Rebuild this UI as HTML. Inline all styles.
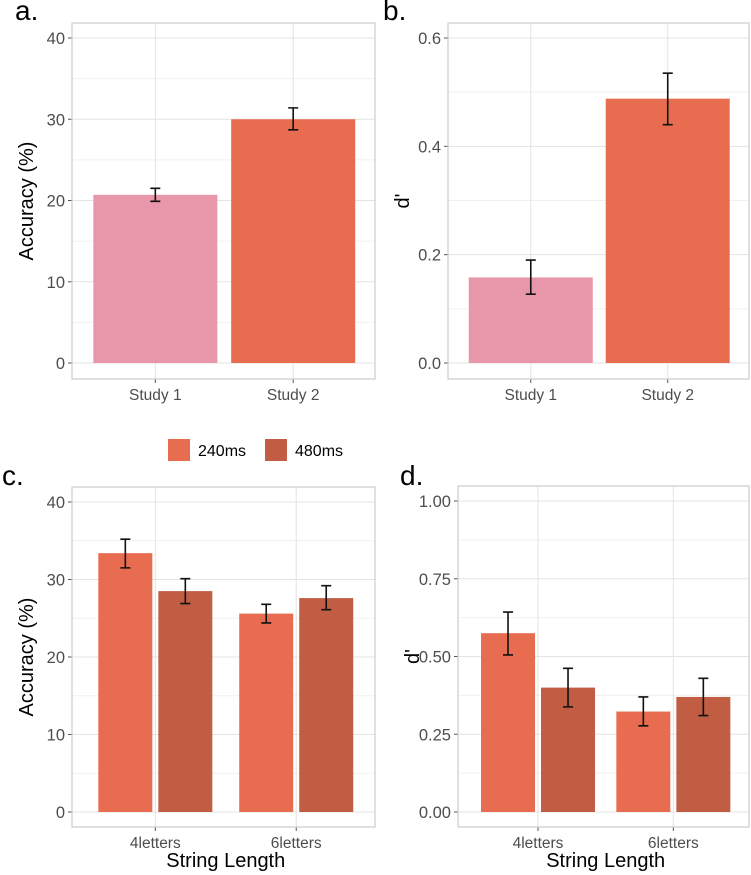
<!DOCTYPE html>
<html><head><meta charset="utf-8"><style>
body{margin:0;background:#fff}
svg{display:block;font-family:"Liberation Sans",sans-serif}
</style></head><body>
<svg id="s" width="751" height="875"></svg>
<script>
const catsAB=["Study 1","Study 2"];
const accAB=[20.7,30.0];
const accLoAB=[19.9,28.7];
const accHiAB=[21.5,31.4];
const dAB=[0.158,0.488];
const dLoAB=[0.127,0.44];
const dHiAB=[0.19,0.535];
const catsCD=["4letters","6letters"];
const groups=["240ms","480ms"];
const accCD=[[33.4,25.6],[28.5,27.6]];
const accLoCD=[[31.5,24.4],[26.9,26.1]];
const accHiCD=[[35.2,26.8],[30.1,29.2]];
const dCD=[[0.575,0.323],[0.40,0.37]];
const dLoCD=[[0.505,0.277],[0.338,0.31]];
const dHiCD=[[0.643,0.37],[0.462,0.43]];
const ticksA=[0,10,20,30,40], ticksB=[0,0.2,0.4,0.6], ticksC=[0,10,20,30,40], ticksD=[0,0.25,0.5,0.75,1.0];
const tickLblB=["0.0","0.2","0.4","0.6"], tickLblD=["0.00","0.25","0.50","0.75","1.00"];

const S=document.getElementById('s'),NS="http://www.w3.org/2000/svg";
function mk(t,a,p,txt){const e=document.createElementNS(NS,t);for(const k in a)e.setAttribute(k,a[k]);if(txt!=null)e.textContent=txt;(p||S).appendChild(e);return e;}

function panel(o){
  const g=mk('g',{});
  
  
  const ys=v=>o.y0+(o.y1-o.y0)*(v-o.tmin)/(o.tmax-o.tmin);
  for(let i=0;i<o.ticks.length-1;i++){const m=(o.ticks[i]+o.ticks[i+1])/2;mk('line',{x1:o.L,x2:o.R,y1:ys(m),y2:ys(m),stroke:'#f0f0f0','stroke-width':1},g);}
  o.ticks.forEach((t,i)=>{
    const y=ys(t);
    const gl=mk('line',{x1:o.L,x2:o.R,y1:y,y2:y,stroke:'#e3e3e3','stroke-width':1},g);
    
    mk('line',{x1:o.L-4,x2:o.L,y1:y,y2:y,stroke:'#555'},g);
    const tl=mk('text',{x:o.L-7,y:y+6,'text-anchor':'end','font-size':16.5,fill:'#4d4d4d'},g,o.lbl?o.lbl[i]:String(t));
    
  });
  o.cx.forEach((x,i)=>{
    mk('line',{x1:x,x2:x,y1:o.T,y2:o.B,stroke:'#e3e3e3'},g);
    mk('line',{x1:x,x2:x,y1:o.B,y2:o.B+4,stroke:'#555'},g);
    const xl=mk('text',{x:x,y:o.B+21,'text-anchor':'middle','font-size':15.5,fill:'#4d4d4d'},g,o.cats[i]);
    
  });
  o.bars.forEach(b=>{
    const r=mk('rect',{x:b.x,y:ys(b.v),width:b.w,height:ys(0)-ys(b.v),fill:b.c},g);
    
    const cx=b.x+b.w/2,yl=ys(b.lo),yh=ys(b.hi);
    const e=mk('path',{d:`M${cx},${yl}V${yh}M${cx-5},${yl}H${cx+5}M${cx-5},${yh}H${cx+5}`,stroke:'#111','stroke-width':1.6,fill:'none'},g);
    
  });
  const fr=mk('rect',{x:o.L,y:o.T,width:o.R-o.L,height:o.B-o.T,fill:'none',stroke:'#ccc','stroke-width':1.2},g);
  
  const yt=mk('text',{x:0,y:0,transform:`translate(${o.L-39},${(o.T+o.B)/2}) rotate(-90)`,'text-anchor':'middle','font-size':20,fill:'#000'},g,o.ytitle);
  
  const pl=mk('text',{x:o.tx,y:o.ty,'font-size':28,fill:'#000'},g,o.tag);
  
  if(o.xtitle){const xt=mk('text',{x:(o.cx[0]+o.cx[1])/2,y:o.B+40,'text-anchor':'middle','font-size':20,fill:'#000'},g,o.xtitle);
    }
}
const pink='#E896AA',or='#E86D50',dk='#C05D43';
function single(L,R,vals,lo,hi){const w=(R-L);const cx=[L+w*0.275,L+w*0.73];return {cx,bars:vals.map((v,i)=>({x:cx[i]-62,w:124,v,lo:lo[i],hi:hi[i],c:i?or:pink}))};}
function dodge(L,R,vals,lo,hi){const w=R-L;const cx=[L+w*0.275,L+w*0.74];const bars=[];
  cx.forEach((c,i)=>groups.forEach((gn,j)=>bars.push({x:j?c+3:c-57,w:54,v:vals[j][i],lo:lo[j][i],hi:hi[j][i],c:j?dk:or})));return {cx,bars};}
let a=single(72,375,accAB,accLoAB,accHiAB);
panel({name:'panel-a',tag:'a.',tx:15,ty:20,L:72,R:375,T:23,B:379,y0:363,y1:38,tmin:0,tmax:40,ticks:ticksA,cats:catsAB,cx:a.cx,bars:a.bars,ytitle:'Accuracy (%)'});
let b=single(448,749,dAB,dLoAB,dHiAB);
panel({name:'panel-b',tag:'b.',tx:383,ty:20,L:448,R:749,T:23,B:379,y0:363,y1:38,tmin:0,tmax:0.6,ticks:ticksB,lbl:tickLblB,cats:catsAB,cx:b.cx,bars:b.bars,ytitle:'d\''});
let c=dodge(72,375,accCD,accLoCD,accHiCD);
panel({name:'panel-c',tag:'c.',tx:2,ty:485,L:72,R:375,T:487,B:827,y0:812,y1:502,tmin:0,tmax:40,ticks:ticksC,cats:catsCD,cx:c.cx,bars:c.bars,ytitle:'Accuracy (%)',xtitle:'String Length'});
let d=dodge(458,749,dCD,dLoCD,dHiCD);
panel({name:'panel-d',tag:'d.',tx:400,ty:485,L:458,R:749,T:486,B:827,y0:812,y1:501,tmin:0,tmax:1,ticks:ticksD,lbl:tickLblD,cats:catsCD,cx:d.cx,bars:d.bars,ytitle:'d\'',xtitle:'String Length'});
const lg=mk('g',{});


groups.forEach((gn,j)=>{
  const x=j?265:168;
  const sw=mk('rect',{x:x,y:439,width:22,height:22,fill:j?dk:or},lg);
  
  const t=mk('text',{x:x+30,y:456,'font-size':16,fill:'#000'},lg,gn);
  
});
</script>
</body></html>
